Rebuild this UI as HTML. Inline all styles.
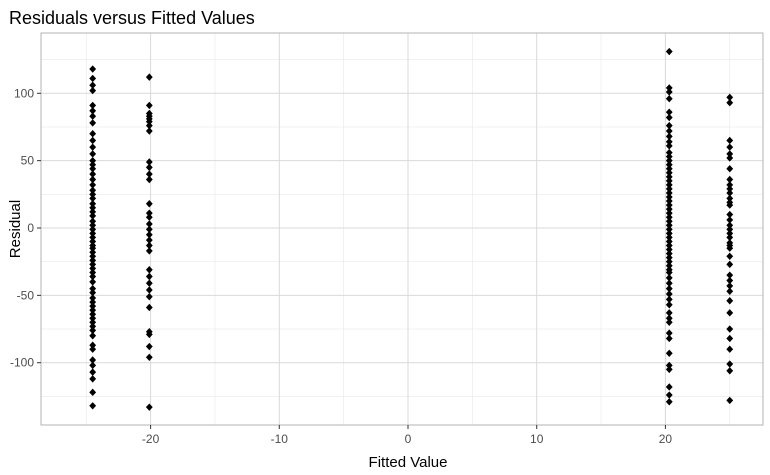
<!DOCTYPE html>
<html><head><meta charset="utf-8"><style>
html,body{margin:0;padding:0;background:#fff;}
svg{display:block;font-family:"Liberation Sans",sans-serif;}
</style></head><body>
<svg id="chart" width="770" height="475">
<text x="9" y="24" font-size="18" fill="#000">Residuals versus Fitted Values</text>
<g id="grid"></g>
<g id="pts"></g>
<rect x="41" y="33" width="722" height="392" fill="none" stroke="#b3b3b3" stroke-width="1"/>
<g id="axes"></g>
<text x="408" y="467" font-size="15" text-anchor="middle" fill="#000">Fitted Value</text>
<text transform="translate(20,229) rotate(-90)" font-size="15" text-anchor="middle" fill="#000">Residual</text>
</svg>
<script>
const fitted = [-24.5, -20.1, 20.3, 25.0];
const res0 = [118,111,106,102,91,87,83,78,70,65,60,55,50,47,44,40,36,32,28,25,22,18,15,12,9,5,2,-1,-4,-7,-10,-13,-15,-18,-21,-24,-27,-30,-33,-36,-40,-45,-48,-52,-55,-58,-61,-64,-67,-70,-73,-76,-80,-87,-90,-98,-102,-107,-112,-122,-132];
const res1 = [112,91,85,83,81,79,76,72,49,45,40,36,18,11,8,3,-1,-5,-9,-13,-17,-31,-36,-41,-46,-51,-59,-77,-79,-88,-96,-133];
const res2 = [131,104,101,96,86,82,76,72,68,64,61,56,53,50,47,44,41,38,35,32,29,26,23,20,17,14,11,8,5,2,-1,-4,-7,-10,-13,-16,-19,-22,-25,-28,-31,-33,-37,-41,-45,-49,-53,-57,-63,-67,-70,-78,-82,-93,-102,-105,-118,-124,-129];
const res3 = [97,93,65,60,55,52,44,36,32,29,26,22,19,17,10,6,2,-1,-4,-7,-11,-13,-15,-21,-27,-35,-39,-43,-47,-54,-63,-75,-82,-90,-101,-106,-128];
const residuals = [res0,res1,res2,res3];
const xTicks = [-20,-10,0,10,20];
const yTicks = [-100,-50,0,50,100];
const xMinor = [-25,-15,-5,5,15,25];
const yMinor = [-125,-75,-25,25,75,125];

const X = v => 408 + v*12.87;
const Y = v => 228 - v*1.347;
const NS = "http://www.w3.org/2000/svg";
const grid = document.getElementById('grid');
const axes = document.getElementById('axes');
const pts = document.getElementById('pts');
function line(p,x1,y1,x2,y2,c,w){const l=document.createElementNS(NS,'line');l.setAttribute('x1',x1);l.setAttribute('y1',y1);l.setAttribute('x2',x2);l.setAttribute('y2',y2);l.setAttribute('stroke',c);l.setAttribute('stroke-width',w);p.appendChild(l);return l;}
xMinor.forEach(v=>{const l=line(grid,X(v),33,X(v),425,'#ebebeb',0.7);

});
yMinor.forEach(v=>{const l=line(grid,41,Y(v),763,Y(v),'#ebebeb',0.7);

});
xTicks.forEach(v=>{const l=line(grid,X(v),33,X(v),425,'#d9d9d9',1);


const t=line(axes,X(v),425,X(v),429,'#333',1);


const tx=document.createElementNS(NS,'text');tx.setAttribute('x',X(v));tx.setAttribute('y',443);tx.setAttribute('font-size','12');tx.setAttribute('text-anchor','middle');tx.setAttribute('fill','#4d4d4d');tx.textContent=v;


axes.appendChild(tx);});
yTicks.forEach(v=>{const l=line(grid,41,Y(v),763,Y(v),'#d9d9d9',1);


const t=line(axes,37,Y(v),41,Y(v),'#333',1);


const tx=document.createElementNS(NS,'text');tx.setAttribute('x',34);tx.setAttribute('y',Y(v)+4);tx.setAttribute('font-size','12');tx.setAttribute('text-anchor','end');tx.setAttribute('fill','#4d4d4d');tx.textContent=v;


axes.appendChild(tx);});
residuals.forEach((arr,i)=>{arr.forEach(r=>{const cx=X(fitted[i]),cy=Y(r);
const p=document.createElementNS(NS,'polygon');
p.setAttribute('points',`${cx},${cy-3.7} ${cx+3.4},${cy} ${cx},${cy+3.7} ${cx-3.4},${cy}`);
p.setAttribute('fill','#000');


pts.appendChild(p);});});
</script>
</body></html>
